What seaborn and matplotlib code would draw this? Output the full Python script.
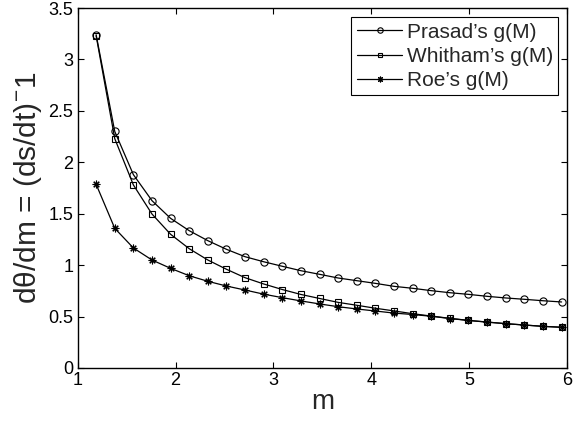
import numpy as np
import pandas as pd
import matplotlib
matplotlib.use("Agg")
import matplotlib.pyplot as plt
from matplotlib.ticker import FormatStrFormatter
import seaborn as sns

# Mach number samples
m = [1.19, 1.38, 1.57, 1.76, 1.95, 2.14, 2.33, 2.52, 2.71, 2.90,
     3.09, 3.28, 3.47, 3.66, 3.85, 4.04, 4.23, 4.42, 4.61, 4.80,
     4.99, 5.18, 5.37, 5.56, 5.75, 5.94]

prasad = [3.24, 2.30, 1.88, 1.627, 1.455, 1.335, 1.238, 1.154, 1.082, 1.033,
          0.989, 0.946, 0.911, 0.875, 0.849, 0.823, 0.794, 0.775, 0.752, 0.732,
          0.716, 0.697, 0.681, 0.668, 0.654, 0.642]

whitham = [3.23, 2.23, 1.78, 1.497, 1.30, 1.16, 1.05, 0.96, 0.878, 0.817,
           0.763, 0.715, 0.676, 0.638, 0.610, 0.581, 0.555, 0.528, 0.505, 0.483,
           0.463, 0.447, 0.431, 0.418, 0.405, 0.396]

roe = [1.786, 1.358, 1.167, 1.05, 0.969, 0.897, 0.843, 0.797, 0.758, 0.718,
       0.684, 0.652, 0.623, 0.596, 0.574, 0.554, 0.534, 0.52, 0.503, 0.481,
       0.462, 0.446, 0.431, 0.418, 0.405, 0.396]

labels = ["Prasad\u2019s g(M)", "Whitham\u2019s g(M)", "Roe\u2019s g(M)"]
xticks = [1, 2, 3, 4, 5, 6]
yticks = [0, 0.5, 1, 1.5, 2, 2.5, 3, 3.5]

sns.set_style("ticks")
plt.rcParams["font.family"] = ["Liberation Sans", "DejaVu Sans"]
plt.rcParams["mathtext.fontset"] = "custom"
plt.rcParams["mathtext.rm"] = "Liberation Sans"
plt.rcParams["mathtext.it"] = "Liberation Sans:italic"

fig = plt.figure(figsize=(5.73, 4.21), dpi=100)
ax = fig.add_axes([0.1353, 0.1259, 0.855, 0.855])

# marker shape and size per curve (open circle, open square, asterisk)
styles = [("o", 5.2), ("s", 4.0), ((8, 2, 0), 5.5)]

for vals, (mk, ms), lab in zip([prasad, whitham, roe], styles, labels):
    df = pd.DataFrame({"m": m, "g": vals})
    sns.lineplot(data=df, x="m", y="g", ax=ax, color="black", lw=0.9,
                 marker=mk, markersize=ms, mfc="none", mec="black",
                 mew=0.8, label=lab)

ax.set_xlim(1, 6)
ax.set_ylim(0, 3.5)
ax.set_xticks(xticks)
ax.set_yticks(yticks)
ax.yaxis.set_major_formatter(FormatStrFormatter("%g"))
ax.tick_params(direction="in", length=4, width=0.8, top=True, right=True,
               labelsize=13, colors="black", pad=3)
for sp in ax.spines.values():
    sp.set_visible(True)
    sp.set_linewidth(1.0)
    sp.set_color("black")

ax.set_xlabel("m", fontsize=20, labelpad=0)
ax.set_ylabel("d\u03b8/dm = (ds/dt)$^{-}$1", fontsize=21.5, labelpad=3)

leg = ax.legend(loc="upper right", fontsize=15, frameon=True, fancybox=False,
                edgecolor="black", framealpha=1, handlelength=2.2,
                handletextpad=0.2, labelspacing=0.25, borderpad=0.25,
                borderaxespad=0.45, markerscale=0.75)
leg.get_frame().set_linewidth(0.8)

fig.savefig("out.png", dpi=100)
